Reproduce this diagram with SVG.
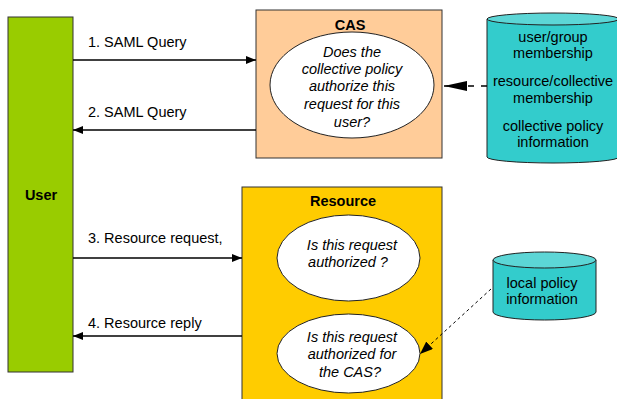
<svg xmlns="http://www.w3.org/2000/svg" width="617" height="399" viewBox="0 0 617 399">
<style>
text{font-family:"Liberation Sans",Arial,sans-serif;font-size:14.5px;fill:#000}
.b{font-weight:bold}
.i{font-style:italic}
.m{text-anchor:middle}
.box{stroke:#333;stroke-width:1}
.ell{fill:#fff;stroke:#222;stroke-width:1}
.cyl{fill:#33CCCC;stroke:#222;stroke-width:1}
.cyltop{fill:#5CD6D6;stroke:#222;stroke-width:1}
.ln{stroke:#000;stroke-width:1.3;fill:none}
</style>
<defs>
<marker id="ah" markerWidth="10" markerHeight="8" refX="10" refY="4" orient="auto" markerUnits="userSpaceOnUse">
<path d="M0,0 L10,4 L0,8 z" fill="#000"/>
</marker>
<marker id="ahbig" markerWidth="23" markerHeight="10" refX="23" refY="5" orient="auto" markerUnits="userSpaceOnUse">
<path d="M0,0 L23,5 L0,10 z" fill="#000"/>
</marker>
<marker id="ahs" markerWidth="13" markerHeight="10" refX="13" refY="5" orient="auto" markerUnits="userSpaceOnUse">
<path d="M0,0 L13,5 L0,10 z" fill="#000"/>
</marker>
</defs>

<g id="user">
<rect class="box" x="8" y="17" width="65" height="355" fill="#99CC00"/>
<text class="b m" x="41" y="200">User</text>
</g>

<g id="cas">
<rect class="box" x="256" y="10" width="186" height="148" fill="#FFCC99"/>
<text class="b m" x="350" y="30">CAS</text>
<ellipse class="ell" cx="352" cy="85" rx="82" ry="53"/>
<text class="i m" x="352" y="57">Does the</text>
<text class="i m" x="352" y="74">collective policy</text>
<text class="i m" x="352" y="91">authorize this</text>
<text class="i m" x="352" y="109">request for this</text>
<text class="i m" x="352" y="127">user?</text>
</g>

<g id="db1">
<path class="cyl" d="M487,19 L487,157 A66,6 0 0 0 619,157 L619,19"/>
<ellipse class="cyltop" cx="553" cy="19" rx="66" ry="6"/>
<text class="m" x="553" y="42">user/group</text>
<text class="m" x="553" y="58">membership</text>
<text class="m" x="553" y="86">resource/collective</text>
<text class="m" x="553" y="103">membership</text>
<text class="m" x="553" y="131">collective policy</text>
<text class="m" x="553" y="147">information</text>
</g>

<g id="resource">
<rect class="box" x="242" y="187" width="200" height="220" fill="#FFCC00"/>
<text class="b m" x="343" y="206">Resource</text>
<ellipse class="ell" cx="348.5" cy="258" rx="71.5" ry="43"/>
<text class="i m" x="352" y="250">Is this request</text>
<text class="i m" x="348" y="267">authorized ?</text>
<ellipse class="ell" cx="348.5" cy="353.5" rx="71.5" ry="39.5"/>
<text class="i m" x="352" y="342">Is this request</text>
<text class="i m" x="352" y="359">authorized for</text>
<text class="i m" x="350" y="377">the CAS?</text>
</g>

<g id="db2">
<path class="cyl" d="M493,260 L493,312 A51.5,8 0 0 0 596,312 L596,260"/>
<ellipse class="cyltop" cx="544.5" cy="260" rx="51.5" ry="8"/>
<text class="m" x="542" y="288">local policy</text>
<text class="m" x="542" y="304">information</text>
</g>

<g id="connectors">
<line class="ln" x1="73" y1="60" x2="256" y2="60" marker-end="url(#ah)"/>
<text x="88" y="47">1. SAML Query</text>
<line class="ln" x1="256" y1="130" x2="73" y2="130" marker-end="url(#ah)"/>
<text x="88" y="117">2. SAML Query</text>
<line class="ln" x1="73" y1="258" x2="242" y2="258" marker-end="url(#ah)"/>
<text x="88" y="243">3. Resource request,</text>
<line class="ln" x1="242" y1="336" x2="73" y2="336" marker-end="url(#ah)"/>
<text x="88" y="328">4. Resource reply</text>
<line class="ln" x1="487" y1="86" x2="444" y2="86" stroke-dasharray="6,7" marker-end="url(#ahbig)"/>
<line x1="491" y1="289" x2="420" y2="354" stroke="#000" stroke-width="1" stroke-dasharray="3,3" marker-end="url(#ahs)"/>
</g>
</svg>
